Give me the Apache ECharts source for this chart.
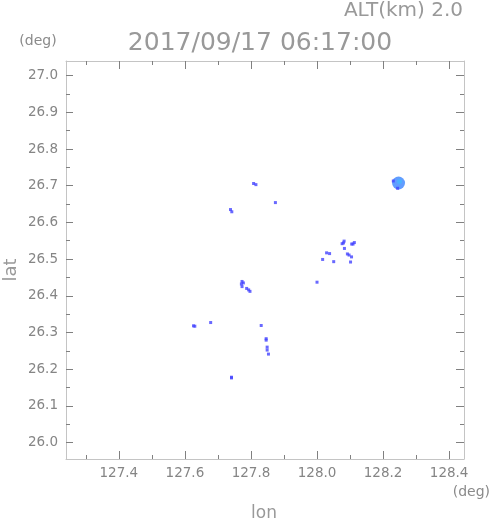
<!DOCTYPE html>
<html>
<head>
<meta charset="utf-8">
<script src="https://cdn.jsdelivr.net/npm/echarts@6/dist/echarts.min.js"></script>
<style>html,body{margin:0;padding:0;background:#fff}#c{width:491px;height:521px}</style>
</head>
<body>
<div id="c"></div>
<script>
const titleText = '2017/09/17 06:17:00';
const altText = 'ALT(km) 2.0';
const lonTicks = [127.4, 127.6, 127.8, 128.0, 128.2, 128.4];
const lonMinor = [127.3, 127.5, 127.7, 127.9, 128.1, 128.3];
const latTicks = [26.0, 26.1, 26.2, 26.3, 26.4, 26.5, 26.6, 26.7, 26.8, 26.9, 27.0];
const latMinor = [26.05, 26.15, 26.25, 26.35, 26.45, 26.55, 26.65, 26.75, 26.85, 26.95];
const lonRange = [127.24, 128.445];
const latRange = [25.955, 27.04];

// weak echo cells [lon, lat]
const weakCells = [
  [127.808, 26.706], [127.815, 26.703],
  [127.874, 26.654],
  [127.738, 26.635], [127.742, 26.629],
  [127.773, 26.439], [127.771, 26.432], [127.773, 26.425], [127.777, 26.435],
  [127.787, 26.420], [127.793, 26.416], [127.797, 26.412],
  [127.626, 26.318], [127.630, 26.317],
  [127.678, 26.327],
  [127.831, 26.319],
  [127.846, 26.283], [127.846, 26.279],
  [127.849, 26.260], [127.849, 26.252],
  [127.853, 26.241],
  [127.741, 26.178], [127.741, 26.176],
  [128.082, 26.549], [128.076, 26.542], [128.080, 26.544],
  [128.105, 26.541], [128.109, 26.541], [128.113, 26.545],
  [128.083, 26.529],
  [128.029, 26.517],
  [128.038, 26.515],
  [128.092, 26.514], [128.097, 26.511],
  [128.1045, 26.506],
  [128.017, 26.499],
  [128.0505, 26.493],
  [128.1015, 26.492],
  [128.000, 26.437],
  [128.231, 26.713], [128.244, 26.693]
];
// moderate echo (big cell)
const modCells = [[128.2468, 26.7074]];
// strong echo core
const strongCells = [[128.2498, 26.7115]];

const tickColor = '#808080';
const lineColor = '#c4c4c4';
const labelColor = '#858585';
const fontFam = 'DejaVu Sans, sans-serif';

function xAx(pos, vals, len, labels, line) {
  return {
    type: 'value', position: pos, min: lonRange[0], max: lonRange[1],
    axisLine: {show: line, onZero: false, lineStyle: {color: lineColor, width: 1}},
    axisTick: {show: true, inside: true, length: len, customValues: vals, lineStyle: {color: tickColor}},
    axisLabel: {show: labels, customValues: vals, margin: 7, color: labelColor, fontSize: 13.5, fontFamily: fontFam,
      formatter: v => v.toFixed(1)},
    splitLine: {show: false}
  };
}
function yAx(pos, vals, len, labels, line) {
  return {
    type: 'value', position: pos, min: latRange[0], max: latRange[1],
    axisLine: {show: line, onZero: false, lineStyle: {color: lineColor, width: 1}},
    axisTick: {show: true, inside: true, length: len, customValues: vals, lineStyle: {color: tickColor}},
    axisLabel: {show: labels, customValues: vals, margin: 8, color: labelColor, fontSize: 13.5, fontFamily: fontFam,
      formatter: v => v.toFixed(1)},
    splitLine: {show: false}
  };
}

const chart = echarts.init(document.getElementById('c'), null, {renderer: 'canvas'});
chart.setOption({
  animation: false,
  backgroundColor: '#fff',
  grid: {left: 66, right: 27, top: 61, bottom: 62, containLabel: false},
  xAxis: [
    xAx('bottom', lonTicks, 8, true, true),
    xAx('bottom', lonMinor, 4, false, false),
    xAx('top', lonTicks, 8, false, true),
    xAx('top', lonMinor, 4, false, false)
  ],
  yAxis: [
    yAx('left', latTicks, 7, true, true),
    yAx('left', latMinor, 4, false, false),
    yAx('right', latTicks, 8, false, true),
    yAx('right', latMinor, 4, false, false)
  ],
  series: [
    {type: 'scatter', xAxisIndex: 0, yAxisIndex: 0, data: modCells, symbol: 'circle', symbolSize: 13,
      itemStyle: {color: '#3a84ff'}, silent: true},
    {type: 'scatter', xAxisIndex: 0, yAxisIndex: 0, data: strongCells, symbol: 'circle', symbolSize: 5,
      itemStyle: {color: '#46b8ff'}, silent: true},
    {type: 'scatter', xAxisIndex: 0, yAxisIndex: 0, data: weakCells, symbol: 'rect', symbolSize: 3,
      itemStyle: {color: '#4444ff'}, silent: true}
  ],
  graphic: [
    {type: 'text', x: 260, y: 43, style: {text: titleText, fill: '#999999', font: '25px ' + fontFam, align: 'center', verticalAlign: 'middle'}},
    {type: 'text', x: 463, y: 11, style: {text: altText, fill: '#999999', font: '20px ' + fontFam, align: 'right', verticalAlign: 'middle'}},
    {type: 'text', x: 38, y: 41, style: {text: '(deg)', fill: '#8a8a8a', font: '14px ' + fontFam, align: 'center', verticalAlign: 'middle'}},
    {type: 'text', x: 490, y: 492, style: {text: '(deg)', fill: '#8a8a8a', font: '14px ' + fontFam, align: 'right', verticalAlign: 'middle'}},
    {type: 'text', x: 264, y: 514, style: {text: 'lon', fill: '#999999', font: '17px ' + fontFam, align: 'center', verticalAlign: 'middle'}},
    {type: 'text', x: 11, y: 270, rotation: Math.PI / 2, style: {text: 'lat', fill: '#999999', font: '18px ' + fontFam, align: 'center', verticalAlign: 'middle'}}
  ]
});
</script>
</body>
</html>
